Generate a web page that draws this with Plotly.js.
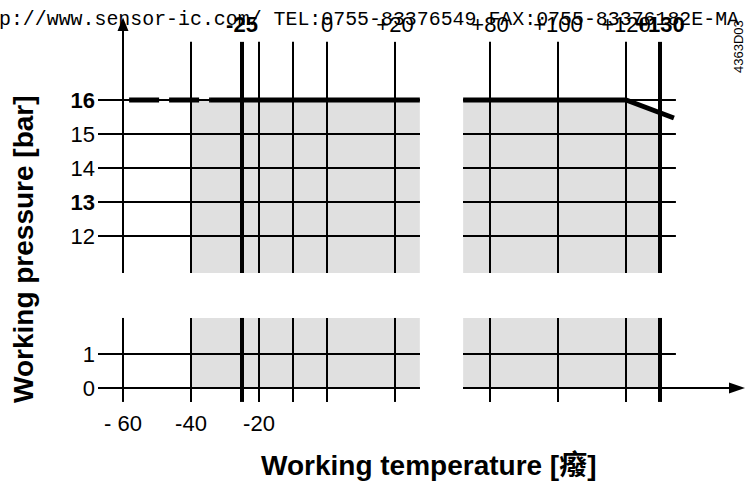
<!DOCTYPE html>
<html>
<head>
<meta charset="utf-8">
<script src="https://cdn.plot.ly/plotly-3.0.1.min.js"></script>
<style>html,body{margin:0;padding:0;background:#fff}#chart{width:745px;height:481px}</style>
</head>
<body>
<div id="chart"></div>
<script>
// ---- data ----
const bottomTickTemps = [-60, -40, -20];
const bottomTickLabels = ['- 60', '-40', '-20'];
const topLeftTickTemps = [-25, 0, 20];
const topLeftTickLabels = ['<b>-25</b>', '0', '+20'];
const topRightTickTemps = [80, 100, 120, 130];
const topRightTickLabels = ['+80', '+100', '+120', '<b>+130</b>'];
const gridTempsLeft = [-60, -40, -25, -20, -10, 0, 20];
const gridTempsRight = [80, 100, 120, 130];
const thickTemps = [-25, 130];
const pressureUpper = [12, 13, 14, 15, 16];
const pressureUpperLabels = ['12', '<b>13</b>', '14', '15', '<b>16</b>'];
const pressureLower = [0, 1];
const pressureLowerLabels = ['0', '1'];
const curveDashT = [-58.2, -34.4];
const curveDashP = [16, 16];
const curveLeftT = [-34.4, 27.3];
const curveLeftP = [16, 16];
const curveRightT = [72.1, 120, 134.1];
const curveRightP = [16, 16, 15.47];
const shadeLeftT = [-40, 27.3];
const shadeLeftTop = [16, 16];
const shadeRightT = [72.1, 120, 130];
const shadeRightTop = [16, 16, 15.63];
const shadeLowerLeftTop = [2.06, 2.06];
const shadeLowerRightT = [72.1, 130];
const shadeLowerRightTop = [2.06, 2.06];

// ---- layout helpers ----
const W = 745, H = 481;
const px = v => v / W;
const py = v => 1 - v / H;
const FONT = 'Liberation Sans, Arial, sans-serif';
const SHADE = '#e0e0e0';

const upperRange = [10.912, 18.5];
const lowerRange = [-0.647, 2.294];
const leftRange = [-67.35, 27.35];
const rightRange = [72.06, 155];

const traces = [
  {x: shadeLeftT, y: shadeLeftTop, xaxis: 'x', yaxis: 'y', fill: 'tozeroy', fillcolor: SHADE, mode: 'lines', line: {width: 0}},
  {x: shadeRightT, y: shadeRightTop, xaxis: 'x2', yaxis: 'y3', fill: 'tozeroy', fillcolor: SHADE, mode: 'lines', line: {width: 0}},
  {x: shadeLeftT, y: shadeLowerLeftTop, xaxis: 'x', yaxis: 'y2', fill: 'tozeroy', fillcolor: SHADE, mode: 'lines', line: {width: 0}},
  {x: shadeLowerRightT, y: shadeLowerRightTop, xaxis: 'x2', yaxis: 'y4', fill: 'tozeroy', fillcolor: SHADE, mode: 'lines', line: {width: 0}},
  {x: curveDashT, y: curveDashP, xaxis: 'x', yaxis: 'y', mode: 'lines', line: {color: '#000', width: 5, dash: '30px,10px'}},
  {x: curveLeftT, y: curveLeftP, xaxis: 'x', yaxis: 'y', mode: 'lines', line: {color: '#000', width: 5}},
  {x: curveRightT, y: curveRightP, xaxis: 'x2', yaxis: 'y3', mode: 'lines', line: {color: '#000', width: 5}},
  // carriers for the top tick-label axes
  {x: [], y: [], xaxis: 'x3', yaxis: 'y', mode: 'lines', hoverinfo: 'skip'},
  {x: [], y: [], xaxis: 'x4', yaxis: 'y3', mode: 'lines', hoverinfo: 'skip'}
];

const shapes = [];
const vline = (xref, yref, t, y0, y1) => shapes.push({
  type: 'line', layer: 'above', xref, yref, x0: t, x1: t, y0, y1,
  line: {color: '#000', width: thickTemps.includes(t) ? 4 : 2}
});
gridTempsLeft.forEach(t => {
  vline('x', 'y', t, upperRange[0], t === -60 ? 18.06 : 17.71);
  vline('x', 'y2', t, -0.41, 2.06);
});
gridTempsRight.forEach(t => {
  vline('x2', 'y3', t, upperRange[0], 17.71);
  vline('x2', 'y4', t, -0.41, 2.06);
});
const hline = (xref, yref, p, x0, x1) => shapes.push({
  type: 'line', layer: 'above', xref, yref, x0, x1, y0: p, y1: p,
  line: {color: '#000', width: 2}
});
pressureUpper.forEach(p => {
  hline('x domain', 'y', p, 0, 1);
  hline('x2 domain', 'y3', p, 0, 0.755);
});
pressureLower.forEach(p => {
  hline('x domain', 'y2', p, 0, 1);
  hline('x2 domain', 'y4', p, 0, p === 0 ? 0.947 : 0.755);
});
// arrowheads
shapes.push({type: 'path', layer: 'above', xref: 'paper', yref: 'paper',
  path: `M ${px(123)} ${py(17.5)} L ${px(117.5)} ${py(31)} L ${px(128.5)} ${py(31)} Z`,
  fillcolor: '#000', line: {width: 0}});
shapes.push({type: 'path', layer: 'above', xref: 'paper', yref: 'paper',
  path: `M ${px(745)} ${py(388)} L ${px(729)} ${py(382.5)} L ${px(729)} ${py(393.5)} Z`,
  fillcolor: '#000', line: {width: 0}});

const baseAxis = {showgrid: false, zeroline: false, showline: false, ticks: '', fixedrange: true,
  tickangle: 0, automargin: false,
  tickfont: {family: FONT, size: 22, color: '#000'}};

const layout = {
  width: W, height: H,
  margin: {l: 0, r: 0, t: 0, b: 0},
  paper_bgcolor: '#fff', plot_bgcolor: 'rgba(0,0,0,0)',
  showlegend: false, hovermode: false,
  xaxis: Object.assign({}, baseAxis, {domain: [px(98), px(420)], range: leftRange, anchor: 'y2', side: 'bottom',
    tickmode: 'array', tickvals: bottomTickTemps, ticktext: bottomTickLabels, ticklabelstandoff: -2}),
  xaxis2: Object.assign({}, baseAxis, {domain: [px(463), 1], range: rightRange, anchor: 'y4', showticklabels: false}),
  xaxis3: Object.assign({}, baseAxis, {overlaying: 'x', range: leftRange, side: 'top', anchor: 'free', position: py(36),
    tickmode: 'array', tickvals: topLeftTickTemps, ticktext: topLeftTickLabels}),
  xaxis4: Object.assign({}, baseAxis, {overlaying: 'x2', range: rightRange, side: 'top', anchor: 'free', position: py(36),
    tickmode: 'array', tickvals: topRightTickTemps, ticktext: topRightTickLabels}),
  yaxis: Object.assign({}, baseAxis, {domain: [py(273), py(15)], range: upperRange, anchor: 'x',
    tickmode: 'array', tickvals: pressureUpper, ticktext: pressureUpperLabels, ticklabelstandoff: 2}),
  yaxis2: Object.assign({}, baseAxis, {domain: [py(410), py(310)], range: lowerRange, anchor: 'x',
    tickmode: 'array', tickvals: pressureLower, ticktext: pressureLowerLabels, ticklabelstandoff: 2}),
  yaxis3: Object.assign({}, baseAxis, {domain: [py(273), py(15)], range: upperRange, anchor: 'x2', showticklabels: false}),
  yaxis4: Object.assign({}, baseAxis, {domain: [py(410), py(310)], range: lowerRange, anchor: 'x2', showticklabels: false}),
  shapes: shapes,
  annotations: [
    {text: 'p://www.sensor-ic.com/ TEL:0755-83376549 FAX:0755-83376182E-MA', xref: 'paper', yref: 'paper',
      x: px(-3), y: py(19), xanchor: 'left', yanchor: 'middle', showarrow: false,
      font: {family: 'Liberation Mono, DejaVu Sans Mono, monospace', size: 19.9, color: '#000'}},
    {text: '<b>Working pressure [bar]</b>', xref: 'paper', yref: 'paper', x: px(23), y: py(249),
      xanchor: 'center', yanchor: 'middle', textangle: -90, showarrow: false,
      font: {family: FONT, size: 28, color: '#000'}},
    {text: '<b>Working temperature [癈]</b>', xref: 'paper', yref: 'paper', x: px(429), y: py(465),
      xanchor: 'center', yanchor: 'middle', showarrow: false,
      font: {family: FONT + ', Noto Sans CJK SC', size: 28, color: '#000'}},
    {text: '4363D03', xref: 'paper', yref: 'paper', x: px(738), y: py(47),
      xanchor: 'center', yanchor: 'middle', textangle: -90, showarrow: false,
      font: {family: FONT, size: 13, color: '#000'}}
  ]
};

Plotly.newPlot('chart', traces, layout, {staticPlot: true, displayModeBar: false});
</script>
</body>
</html>
